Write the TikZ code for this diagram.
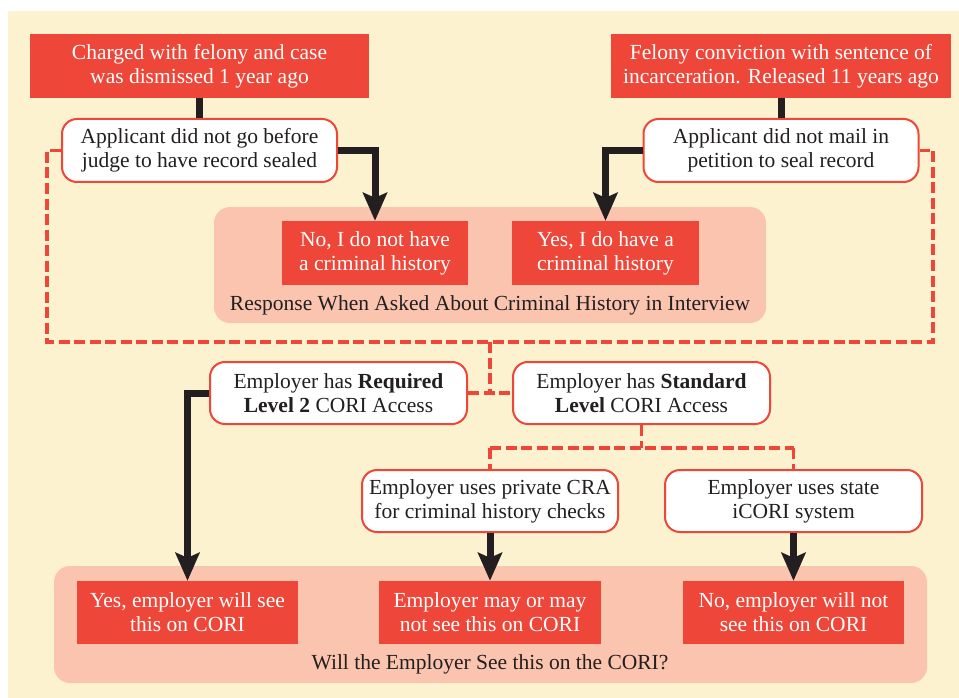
\documentclass[tikz,border=0pt]{standalone}
\usepackage{fontspec}
\setmainfont{Liberation Serif}
\usetikzlibrary{arrows.meta}
\definecolor{cream}{RGB}{253,242,208}
\definecolor{redbox}{RGB}{238,70,56}
\definecolor{pinkbg}{RGB}{250,196,175}
\definecolor{ink}{RGB}{35,31,32}
\tikzset{
  redbox/.style={fill=redbox, text=white, inner sep=0pt, align=center, minimum height=64pt},
  whitebox/.style={fill=white, draw=redbox, line width=2pt, rounded corners=15pt, text=ink, inner sep=0pt, align=center, minimum height=62pt},
  flow/.style={draw=ink, line width=7pt},
  flowarrow/.style={draw=ink, line width=7pt, -{Stealth[length=28pt,width=24pt,inset=5pt]}},
  dashline/.style={draw=redbox, line width=3.6pt, dash pattern=on 11pt off 4.5pt},
  caption/.style={text=ink, inner sep=0pt},
  every node/.style={font=\fontsize{21.5}{24}\selectfont}
}
\begin{document}
\begin{tikzpicture}[x=1pt,y=-1pt]
\useasboundingbox (0,0) rectangle (959,698);
\fill[cream] (8,11) rectangle (959,698);
% pink regions
\fill[pinkbg, rounded corners=16pt] (214,207) rectangle (766,323);
\fill[pinkbg, rounded corners=16pt] (54,566) rectangle (927,683);
% dashed connectors
\coordinate (dl1) at (47,150.5);
\coordinate (dl2) at (47,342);
\coordinate (dr2) at (933,342);
\coordinate (dr1) at (933,150.5);
\coordinate (dm) at (490,342);
\coordinate (dj) at (490,393);
\coordinate (sj) at (641.5,448);
\coordinate (sl) at (490,448);
\coordinate (sr) at (793.5,448);
% nodes
\node[redbox, minimum width=339pt] (c1) at (199.5,66) {Charged with felony and case\\was dismissed 1 year ago};
\node[redbox, minimum width=340pt] (c2) at (781,66) {Felony conviction with sentence of\\incarceration. Released 11 years ago};
\node[whitebox, minimum width=275pt, minimum height=63pt] (a1) at (199.5,150.5) {Applicant did not go before\\judge to have record sealed};
\node[whitebox, minimum width=275pt, minimum height=63pt] (a2) at (781,150.5) {Applicant did not mail in\\petition to seal record};
\node[redbox, minimum width=186pt] (r1) at (375,253) {No, I do not have\\a criminal history};
\node[redbox, minimum width=187pt] (r2) at (605.5,253) {Yes, I do have a\\criminal history};
\node[caption] (cap1) at (490,305) {Response When Asked About Criminal History in Interview};
\node[whitebox, minimum width=257pt] (e1) at (338.5,393) {Employer has \textbf{Required}\\\textbf{Level 2} CORI Access};
\node[whitebox, minimum width=257pt] (e2) at (641.5,393) {Employer has \textbf{Standard}\\\textbf{Level} CORI Access};
\node[whitebox, minimum width=256pt] (p1) at (490,501) {Employer uses private CRA\\for criminal history checks};
\node[whitebox, minimum width=257pt] (p2) at (793.5,501) {Employer uses state\\iCORI system};
\node[redbox, minimum width=221pt, minimum height=63pt] (b1) at (187.5,612.5) {Yes, employer will see\\this on CORI};
\node[redbox, minimum width=222pt, minimum height=63pt] (b2) at (490,612.5) {Employer may or may\\not see this on CORI};
\node[redbox, minimum width=221pt, minimum height=63pt] (b3) at (793.5,612.5) {No, employer will not\\see this on CORI};
\node[caption] (cap2) at (490,664) {Will the Employer See this on the CORI?};
% dashed lines
\draw[dashline] (a1.west) -- (dl1) -- (dl2) -- (dr2) -- (dr1) -- (a2.east);
\draw[dashline] (dm) -- (dj);
\draw[dashline] (e1.east) -- (e2.west);
\draw[dashline] (e2.south) -- (sj);
\draw[dashline] (sl) -- (sr);
\draw[dashline] (sl) -- (p1.north);
\draw[dashline] (sr) -- (p2.north);
% solid flow
\draw[flow] (c1.south) -- (a1.north);
\draw[flow] (c2.south) -- (a2.north);
\draw[flowarrow] (a1.east) -| (r1.north);
\draw[flowarrow] (a2.west) -| (r2.north);
\draw[flowarrow] (e1.west) -| (b1.north);
\draw[flowarrow] (p1.south) -- (b2.north);
\draw[flowarrow] (p2.south) -- (b3.north);
\end{tikzpicture}
\end{document}
